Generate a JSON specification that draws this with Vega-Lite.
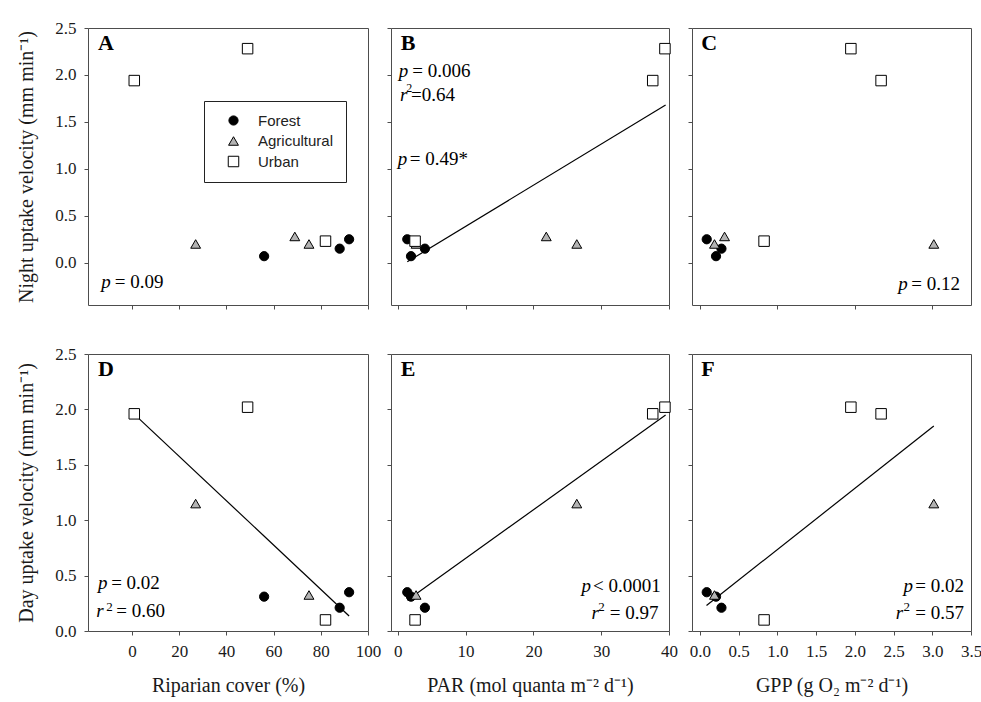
{
  "$schema": "https://vega.github.io/schema/vega-lite/v6.json",
  "background": "white",
  "padding": {"left": 16, "top": 18, "right": 5, "bottom": 5},
  "config": {
    "view": {"stroke": "#4d4d4d", "strokeWidth": 1},
    "axis": {"domain": false, "grid": false, "ticks": true, "tickColor": "#4d4d4d", "tickSize": 4, "labelFont": "Liberation Serif", "labelFontSize": 17, "labelColor": "#1a1a1a", "labelPadding": 8, "labelFlush": false, "labelOverlap": false, "labelBound": false, "titleFont": "Liberation Serif", "titleFontSize": 20, "titleFontWeight": "normal", "titleColor": "#1a1a1a"},
    "axisX": {"titlePadding": 16},
    "axisY": {"titlePadding": 18},
    "legend": {"orient": "none", "legendX": 116, "legendY": 73, "strokeColor": "#222222", "fillColor": "white", "padding": 12, "symbolOffset": 10, "labelOffset": 17, "labelFont": "Liberation Sans", "labelFontSize": 15, "labelColor": "#222222", "rowPadding": 4.5, "symbolStrokeColor": "black", "symbolStrokeWidth": 1}
  },
  "datasets": {
    "sites": [
      {"site": 1, "type": "Forest", "cover": 56, "par": 1.95, "gpp": 0.21, "night": 0.07, "day": 0.31},
      {"site": 2, "type": "Forest", "cover": 88, "par": 4.0, "gpp": 0.28, "night": 0.15, "day": 0.21},
      {"site": 3, "type": "Forest", "cover": 92, "par": 1.4, "gpp": 0.09, "night": 0.25, "day": 0.35},
      {"site": 4, "type": "Agricultural", "cover": 27, "par": 26.4, "gpp": 3.02, "night": 0.2, "day": 1.15},
      {"site": 5, "type": "Agricultural", "cover": 69, "par": 21.9, "gpp": 0.32, "night": 0.28},
      {"site": 6, "type": "Agricultural", "cover": 75, "par": 2.7, "gpp": 0.19, "night": 0.2, "day": 0.325},
      {"site": 7, "type": "Urban", "cover": 1, "par": 37.6, "gpp": 2.34, "night": 1.94, "day": 1.96},
      {"site": 8, "type": "Urban", "cover": 49, "par": 39.4, "gpp": 1.95, "night": 2.28, "day": 2.02},
      {"site": 9, "type": "Urban", "cover": 82, "par": 2.55, "gpp": 0.83, "night": 0.23, "day": 0.1}
    ],
    "fits": [
      {"panel": "B", "par": 1.4, "night": 0.01},
      {"panel": "B", "par": 39.5, "night": 1.68},
      {"panel": "D", "cover": 0.85, "day": 1.96},
      {"panel": "D", "cover": 92, "day": 0.135},
      {"panel": "E", "par": 1.4, "day": 0.277},
      {"panel": "E", "par": 39.5, "day": 1.95},
      {"panel": "F", "gpp": 0.087, "day": 0.23},
      {"panel": "F", "gpp": 3.02, "day": 1.85}
    ],
    "notes": [
      {"panel": "A", "kind": "letter", "cover": -14.4, "night": 2.27, "txt": "A"},
      {"panel": "A", "kind": "it", "cover": -13.0, "night": -0.266, "txt": "p"},
      {"panel": "A", "kind": "reg", "cover": -7.3, "night": -0.266, "txt": "= 0.09"},
      {"panel": "B", "kind": "letter", "par": 0.44, "night": 2.27, "txt": "B"},
      {"panel": "B", "kind": "it", "par": 0.15, "night": 1.98, "txt": "p"},
      {"panel": "B", "kind": "reg", "par": 2.15, "night": 1.98, "txt": "= 0.006"},
      {"panel": "B", "kind": "it", "par": 0.34, "night": 1.72, "txt": "r"},
      {"panel": "B", "kind": "sup", "par": 1.25, "night": 1.82, "txt": "2"},
      {"panel": "B", "kind": "reg", "par": 1.95, "night": 1.72, "txt": "=0.64"},
      {"panel": "B", "kind": "it", "par": 0.0, "night": 1.04, "txt": "p"},
      {"panel": "B", "kind": "reg", "par": 1.77, "night": 1.04, "txt": "= 0.49*"},
      {"panel": "C", "kind": "letter", "gpp": 0.02, "night": 2.27, "txt": "C"},
      {"panel": "C", "kind": "it", "gpp": 2.56, "night": -0.29, "txt": "p"},
      {"panel": "C", "kind": "reg", "gpp": 2.73, "night": -0.29, "txt": "= 0.12"},
      {"panel": "D", "kind": "letter", "cover": -14.4, "day": 2.3, "txt": "D"},
      {"panel": "D", "kind": "it", "cover": -14.4, "day": 0.379, "txt": "p"},
      {"panel": "D", "kind": "reg", "cover": -8.8, "day": 0.379, "txt": "= 0.02"},
      {"panel": "D", "kind": "it", "cover": -15.1, "day": 0.124, "txt": "r"},
      {"panel": "D", "kind": "sup", "cover": -10.9, "day": 0.183, "txt": "2"},
      {"panel": "D", "kind": "reg", "cover": -6.6, "day": 0.124, "txt": "= 0.60"},
      {"panel": "E", "kind": "letter", "par": 0.44, "day": 2.3, "txt": "E"},
      {"panel": "E", "kind": "it", "par": 27.08, "day": 0.354, "txt": "p"},
      {"panel": "E", "kind": "reg", "par": 28.79, "day": 0.354, "txt": "< 0.0001"},
      {"panel": "E", "kind": "it", "par": 28.56, "day": 0.105, "txt": "r"},
      {"panel": "E", "kind": "sup", "par": 29.55, "day": 0.18, "txt": "2"},
      {"panel": "E", "kind": "reg", "par": 31.27, "day": 0.105, "txt": "= 0.97"},
      {"panel": "F", "kind": "letter", "gpp": 0.02, "day": 2.3, "txt": "F"},
      {"panel": "F", "kind": "it", "gpp": 2.628, "day": 0.354, "txt": "p"},
      {"panel": "F", "kind": "reg", "gpp": 2.78, "day": 0.354, "txt": "= 0.02"},
      {"panel": "F", "kind": "it", "gpp": 2.528, "day": 0.105, "txt": "r"},
      {"panel": "F", "kind": "sup", "gpp": 2.63, "day": 0.18, "txt": "2"},
      {"panel": "F", "kind": "reg", "gpp": 2.78, "day": 0.105, "txt": "= 0.57"}
    ]
  },
  "columns": 3,
  "bounds": "flush",
  "spacing": {"row": 49, "column": 23},
  "concat": [
    {
      "width": 280, "height": 277,
      "encoding": {
        "x": {"field": "cover", "type": "quantitative", "scale": {"domain": [-18.6, 100], "nice": false, "zero": false}, "axis": {"values": [0, 20, 40, 60, 80, 100], "labels": false, "title": null}},
        "y": {"field": "night", "type": "quantitative", "scale": {"domain": [-0.45, 2.5], "nice": false, "zero": false}, "axis": {"values": [0, 0.5, 1, 1.5, 2, 2.5], "format": ".1f", "title": "Night uptake velocity (mm min⁻¹)"}}
      },
      "layer": [
        {"data": {"name": "sites"}, "mark": {"type": "point", "filled": true, "opacity": 1, "strokeWidth": 1},
         "encoding": {
           "shape": {"field": "type", "type": "nominal", "title": null, "scale": {"domain": ["Forest", "Agricultural", "Urban"], "range": ["circle", "triangle-up", "square"]}},
           "fill": {"field": "type", "type": "nominal", "title": null, "scale": {"domain": ["Forest", "Agricultural", "Urban"], "range": ["#000000", "#b3b3b3", "#ffffff"]}},
           "stroke": {"field": "type", "type": "nominal", "title": null, "scale": {"domain": ["Forest", "Agricultural", "Urban"], "range": ["#000000", "#000000", "#000000"]}},
           "size": {"field": "type", "type": "nominal", "title": null, "scale": {"domain": ["Forest", "Agricultural", "Urban"], "range": [85, 110, 75]}}
         }},
        {"data": {"name": "notes"}, "transform": [{"filter": "datum.panel === 'A' && datum.kind === 'letter'"}], "mark": {"type": "text", "font": "Liberation Serif", "fontSize": 22, "fontWeight": "bold", "align": "left", "baseline": "alphabetic", "color": "black"}, "encoding": {"text": {"field": "txt"}}},
        {"data": {"name": "notes"}, "transform": [{"filter": "datum.panel === 'A' && datum.kind === 'it'"}], "mark": {"type": "text", "font": "Liberation Serif", "fontSize": 19, "fontStyle": "italic", "align": "left", "baseline": "alphabetic", "color": "black"}, "encoding": {"text": {"field": "txt"}}},
        {"data": {"name": "notes"}, "transform": [{"filter": "datum.panel === 'A' && datum.kind === 'reg'"}], "mark": {"type": "text", "font": "Liberation Serif", "fontSize": 19, "align": "left", "baseline": "alphabetic", "color": "black"}, "encoding": {"text": {"field": "txt"}}}
      ]
    },
    {
      "width": 278, "height": 277,
      "encoding": {
        "x": {"field": "par", "type": "quantitative", "scale": {"domain": [-1, 40], "nice": false, "zero": false}, "axis": {"values": [0, 10, 20, 30, 40], "labels": false, "title": null}},
        "y": {"field": "night", "type": "quantitative", "scale": {"domain": [-0.45, 2.5], "nice": false, "zero": false}, "axis": {"values": [0, 0.5, 1, 1.5, 2, 2.5], "labels": false, "title": null}}
      },
      "layer": [
        {"data": {"name": "fits"}, "transform": [{"filter": "datum.panel === 'B'"}], "mark": {"type": "line", "color": "black", "strokeWidth": 1.2}, "encoding": {}},
        {"data": {"name": "sites"}, "mark": {"type": "point", "filled": true, "opacity": 1, "strokeWidth": 1},
         "encoding": {
           "shape": {"field": "type", "type": "nominal", "title": null, "scale": {"domain": ["Forest", "Agricultural", "Urban"], "range": ["circle", "triangle-up", "square"]}},
           "fill": {"field": "type", "type": "nominal", "title": null, "scale": {"domain": ["Forest", "Agricultural", "Urban"], "range": ["#000000", "#b3b3b3", "#ffffff"]}},
           "stroke": {"field": "type", "type": "nominal", "title": null, "scale": {"domain": ["Forest", "Agricultural", "Urban"], "range": ["#000000", "#000000", "#000000"]}},
           "size": {"field": "type", "type": "nominal", "title": null, "scale": {"domain": ["Forest", "Agricultural", "Urban"], "range": [85, 110, 75]}}
         }},
        {"data": {"name": "notes"}, "transform": [{"filter": "datum.panel === 'B' && datum.kind === 'letter'"}], "mark": {"type": "text", "font": "Liberation Serif", "fontSize": 22, "fontWeight": "bold", "align": "left", "baseline": "alphabetic", "color": "black"}, "encoding": {"text": {"field": "txt"}}},
        {"data": {"name": "notes"}, "transform": [{"filter": "datum.panel === 'B' && datum.kind === 'it'"}], "mark": {"type": "text", "font": "Liberation Serif", "fontSize": 19, "fontStyle": "italic", "align": "left", "baseline": "alphabetic", "color": "black"}, "encoding": {"text": {"field": "txt"}}},
        {"data": {"name": "notes"}, "transform": [{"filter": "datum.panel === 'B' && datum.kind === 'sup'"}], "mark": {"type": "text", "font": "Liberation Serif", "fontSize": 12, "align": "left", "baseline": "alphabetic", "color": "black"}, "encoding": {"text": {"field": "txt"}}},
        {"data": {"name": "notes"}, "transform": [{"filter": "datum.panel === 'B' && datum.kind === 'reg'"}], "mark": {"type": "text", "font": "Liberation Serif", "fontSize": 19, "align": "left", "baseline": "alphabetic", "color": "black"}, "encoding": {"text": {"field": "txt"}}}
      ]
    },
    {
      "width": 279, "height": 277,
      "encoding": {
        "x": {"field": "gpp", "type": "quantitative", "scale": {"domain": [-0.1, 3.5], "nice": false, "zero": false}, "axis": {"values": [0, 1, 2, 3], "labels": false, "title": null}},
        "y": {"field": "night", "type": "quantitative", "scale": {"domain": [-0.45, 2.5], "nice": false, "zero": false}, "axis": {"values": [0, 0.5, 1, 1.5, 2, 2.5], "labels": false, "title": null}}
      },
      "layer": [
        {"data": {"name": "sites"}, "mark": {"type": "point", "filled": true, "opacity": 1, "strokeWidth": 1},
         "encoding": {
           "shape": {"field": "type", "type": "nominal", "title": null, "scale": {"domain": ["Forest", "Agricultural", "Urban"], "range": ["circle", "triangle-up", "square"]}},
           "fill": {"field": "type", "type": "nominal", "title": null, "scale": {"domain": ["Forest", "Agricultural", "Urban"], "range": ["#000000", "#b3b3b3", "#ffffff"]}},
           "stroke": {"field": "type", "type": "nominal", "title": null, "scale": {"domain": ["Forest", "Agricultural", "Urban"], "range": ["#000000", "#000000", "#000000"]}},
           "size": {"field": "type", "type": "nominal", "title": null, "scale": {"domain": ["Forest", "Agricultural", "Urban"], "range": [85, 110, 75]}}
         }},
        {"data": {"name": "notes"}, "transform": [{"filter": "datum.panel === 'C' && datum.kind === 'letter'"}], "mark": {"type": "text", "font": "Liberation Serif", "fontSize": 22, "fontWeight": "bold", "align": "left", "baseline": "alphabetic", "color": "black"}, "encoding": {"text": {"field": "txt"}}},
        {"data": {"name": "notes"}, "transform": [{"filter": "datum.panel === 'C' && datum.kind === 'it'"}], "mark": {"type": "text", "font": "Liberation Serif", "fontSize": 19, "fontStyle": "italic", "align": "left", "baseline": "alphabetic", "color": "black"}, "encoding": {"text": {"field": "txt"}}},
        {"data": {"name": "notes"}, "transform": [{"filter": "datum.panel === 'C' && datum.kind === 'reg'"}], "mark": {"type": "text", "font": "Liberation Serif", "fontSize": 19, "align": "left", "baseline": "alphabetic", "color": "black"}, "encoding": {"text": {"field": "txt"}}}
      ]
    },
    {
      "width": 280, "height": 277,
      "encoding": {
        "x": {"field": "cover", "type": "quantitative", "scale": {"domain": [-18.6, 100], "nice": false, "zero": false}, "axis": {"values": [0, 20, 40, 60, 80, 100], "title": "Riparian cover (%)"}},
        "y": {"field": "day", "type": "quantitative", "scale": {"domain": [0, 2.5], "nice": false, "zero": false}, "axis": {"values": [0, 0.5, 1, 1.5, 2, 2.5], "format": ".1f", "title": "Day uptake velocity (mm min⁻¹)"}}
      },
      "layer": [
        {"data": {"name": "fits"}, "transform": [{"filter": "datum.panel === 'D'"}], "mark": {"type": "line", "color": "black", "strokeWidth": 1.2}, "encoding": {}},
        {"data": {"name": "sites"}, "mark": {"type": "point", "filled": true, "opacity": 1, "strokeWidth": 1},
         "encoding": {
           "shape": {"field": "type", "type": "nominal", "title": null, "scale": {"domain": ["Forest", "Agricultural", "Urban"], "range": ["circle", "triangle-up", "square"]}},
           "fill": {"field": "type", "type": "nominal", "title": null, "scale": {"domain": ["Forest", "Agricultural", "Urban"], "range": ["#000000", "#b3b3b3", "#ffffff"]}},
           "stroke": {"field": "type", "type": "nominal", "title": null, "scale": {"domain": ["Forest", "Agricultural", "Urban"], "range": ["#000000", "#000000", "#000000"]}},
           "size": {"field": "type", "type": "nominal", "title": null, "scale": {"domain": ["Forest", "Agricultural", "Urban"], "range": [85, 110, 75]}}
         }},
        {"data": {"name": "notes"}, "transform": [{"filter": "datum.panel === 'D' && datum.kind === 'letter'"}], "mark": {"type": "text", "font": "Liberation Serif", "fontSize": 22, "fontWeight": "bold", "align": "left", "baseline": "alphabetic", "color": "black"}, "encoding": {"text": {"field": "txt"}}},
        {"data": {"name": "notes"}, "transform": [{"filter": "datum.panel === 'D' && datum.kind === 'it'"}], "mark": {"type": "text", "font": "Liberation Serif", "fontSize": 19, "fontStyle": "italic", "align": "left", "baseline": "alphabetic", "color": "black"}, "encoding": {"text": {"field": "txt"}}},
        {"data": {"name": "notes"}, "transform": [{"filter": "datum.panel === 'D' && datum.kind === 'sup'"}], "mark": {"type": "text", "font": "Liberation Serif", "fontSize": 13, "align": "left", "baseline": "alphabetic", "color": "black"}, "encoding": {"text": {"field": "txt"}}},
        {"data": {"name": "notes"}, "transform": [{"filter": "datum.panel === 'D' && datum.kind === 'reg'"}], "mark": {"type": "text", "font": "Liberation Serif", "fontSize": 19, "align": "left", "baseline": "alphabetic", "color": "black"}, "encoding": {"text": {"field": "txt"}}}
      ]
    },
    {
      "width": 278, "height": 277,
      "encoding": {
        "x": {"field": "par", "type": "quantitative", "scale": {"domain": [-1, 40], "nice": false, "zero": false}, "axis": {"values": [0, 10, 20, 30, 40], "title": "PAR (mol quanta m⁻² d⁻¹)"}},
        "y": {"field": "day", "type": "quantitative", "scale": {"domain": [0, 2.5], "nice": false, "zero": false}, "axis": {"values": [0, 0.5, 1, 1.5, 2, 2.5], "labels": false, "title": null}}
      },
      "layer": [
        {"data": {"name": "fits"}, "transform": [{"filter": "datum.panel === 'E'"}], "mark": {"type": "line", "color": "black", "strokeWidth": 1.2}, "encoding": {}},
        {"data": {"name": "sites"}, "mark": {"type": "point", "filled": true, "opacity": 1, "strokeWidth": 1},
         "encoding": {
           "shape": {"field": "type", "type": "nominal", "title": null, "scale": {"domain": ["Forest", "Agricultural", "Urban"], "range": ["circle", "triangle-up", "square"]}},
           "fill": {"field": "type", "type": "nominal", "title": null, "scale": {"domain": ["Forest", "Agricultural", "Urban"], "range": ["#000000", "#b3b3b3", "#ffffff"]}},
           "stroke": {"field": "type", "type": "nominal", "title": null, "scale": {"domain": ["Forest", "Agricultural", "Urban"], "range": ["#000000", "#000000", "#000000"]}},
           "size": {"field": "type", "type": "nominal", "title": null, "scale": {"domain": ["Forest", "Agricultural", "Urban"], "range": [85, 110, 75]}}
         }},
        {"data": {"name": "notes"}, "transform": [{"filter": "datum.panel === 'E' && datum.kind === 'letter'"}], "mark": {"type": "text", "font": "Liberation Serif", "fontSize": 22, "fontWeight": "bold", "align": "left", "baseline": "alphabetic", "color": "black"}, "encoding": {"text": {"field": "txt"}}},
        {"data": {"name": "notes"}, "transform": [{"filter": "datum.panel === 'E' && datum.kind === 'it'"}], "mark": {"type": "text", "font": "Liberation Serif", "fontSize": 19, "fontStyle": "italic", "align": "left", "baseline": "alphabetic", "color": "black"}, "encoding": {"text": {"field": "txt"}}},
        {"data": {"name": "notes"}, "transform": [{"filter": "datum.panel === 'E' && datum.kind === 'sup'"}], "mark": {"type": "text", "font": "Liberation Serif", "fontSize": 13, "align": "left", "baseline": "alphabetic", "color": "black"}, "encoding": {"text": {"field": "txt"}}},
        {"data": {"name": "notes"}, "transform": [{"filter": "datum.panel === 'E' && datum.kind === 'reg'"}], "mark": {"type": "text", "font": "Liberation Serif", "fontSize": 19, "align": "left", "baseline": "alphabetic", "color": "black"}, "encoding": {"text": {"field": "txt"}}}
      ]
    },
    {
      "width": 279, "height": 277,
      "encoding": {
        "x": {"field": "gpp", "type": "quantitative", "scale": {"domain": [-0.1, 3.5], "nice": false, "zero": false}, "axis": {"values": [0, 0.5, 1, 1.5, 2, 2.5, 3, 3.5], "format": ".1f", "title": "GPP (g O₂ m⁻² d⁻¹)"}},
        "y": {"field": "day", "type": "quantitative", "scale": {"domain": [0, 2.5], "nice": false, "zero": false}, "axis": {"values": [0, 0.5, 1, 1.5, 2, 2.5], "labels": false, "title": null}}
      },
      "layer": [
        {"data": {"name": "fits"}, "transform": [{"filter": "datum.panel === 'F'"}], "mark": {"type": "line", "color": "black", "strokeWidth": 1.2}, "encoding": {}},
        {"data": {"name": "sites"}, "mark": {"type": "point", "filled": true, "opacity": 1, "strokeWidth": 1},
         "encoding": {
           "shape": {"field": "type", "type": "nominal", "title": null, "scale": {"domain": ["Forest", "Agricultural", "Urban"], "range": ["circle", "triangle-up", "square"]}},
           "fill": {"field": "type", "type": "nominal", "title": null, "scale": {"domain": ["Forest", "Agricultural", "Urban"], "range": ["#000000", "#b3b3b3", "#ffffff"]}},
           "stroke": {"field": "type", "type": "nominal", "title": null, "scale": {"domain": ["Forest", "Agricultural", "Urban"], "range": ["#000000", "#000000", "#000000"]}},
           "size": {"field": "type", "type": "nominal", "title": null, "scale": {"domain": ["Forest", "Agricultural", "Urban"], "range": [85, 110, 75]}}
         }},
        {"data": {"name": "notes"}, "transform": [{"filter": "datum.panel === 'F' && datum.kind === 'letter'"}], "mark": {"type": "text", "font": "Liberation Serif", "fontSize": 22, "fontWeight": "bold", "align": "left", "baseline": "alphabetic", "color": "black"}, "encoding": {"text": {"field": "txt"}}},
        {"data": {"name": "notes"}, "transform": [{"filter": "datum.panel === 'F' && datum.kind === 'it'"}], "mark": {"type": "text", "font": "Liberation Serif", "fontSize": 19, "fontStyle": "italic", "align": "left", "baseline": "alphabetic", "color": "black"}, "encoding": {"text": {"field": "txt"}}},
        {"data": {"name": "notes"}, "transform": [{"filter": "datum.panel === 'F' && datum.kind === 'sup'"}], "mark": {"type": "text", "font": "Liberation Serif", "fontSize": 13, "align": "left", "baseline": "alphabetic", "color": "black"}, "encoding": {"text": {"field": "txt"}}},
        {"data": {"name": "notes"}, "transform": [{"filter": "datum.panel === 'F' && datum.kind === 'reg'"}], "mark": {"type": "text", "font": "Liberation Serif", "fontSize": 19, "align": "left", "baseline": "alphabetic", "color": "black"}, "encoding": {"text": {"field": "txt"}}}
      ]
    }
  ]
}
